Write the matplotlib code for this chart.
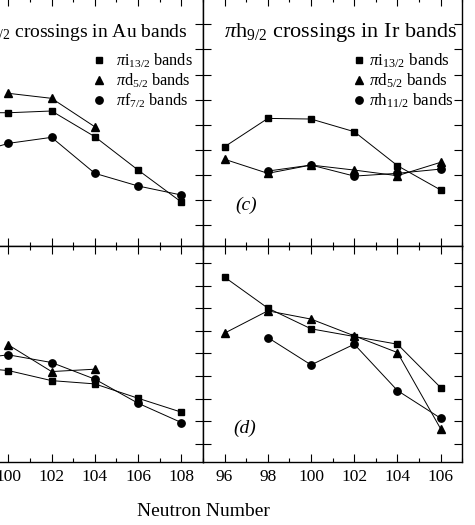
import matplotlib
matplotlib.use('Agg')
import matplotlib.pyplot as plt
from matplotlib.lines import Line2D
import numpy as np

plt.rcParams['font.family'] = ['Liberation Serif', 'DejaVu Serif']
plt.rcParams['mathtext.fontset'] = 'custom'
plt.rcParams['mathtext.rm'] = 'Liberation Serif'
plt.rcParams['mathtext.it'] = 'Liberation Serif:italic'

# ---------------- data (crossing frequencies) ----------------
# Upper-left: pi h9/2 crossings in Au bands
au_up_i13_N = [98, 100, 102, 104, 106, 108]
au_up_i13 = [0.2897, 0.2895, 0.2909, 0.2704, 0.2438, 0.2183]
au_up_d52_N = [100, 102, 104]
au_up_d52 = [0.3050, 0.3010, 0.2783]
au_up_f72_N = [98, 100, 102, 104, 106, 108]
au_up_f72 = [0.2550, 0.2651, 0.2699, 0.2412, 0.2311, 0.2239]

# Upper-right (c): pi h9/2 crossings in Ir bands
ir_up_i13_N = [96, 98, 100, 102, 104, 106]
ir_up_i13 = [0.2624, 0.2850, 0.2845, 0.2744, 0.2473, 0.2279]
ir_up_d52_N = [96, 98, 100, 102, 104, 106]
ir_up_d52 = [0.2524, 0.2412, 0.2478, 0.2438, 0.2393, 0.2500]
ir_up_h112_N = [98, 100, 102, 104, 106]
ir_up_h112 = [0.2430, 0.2478, 0.2390, 0.2412, 0.2446]

# Lower-left: Au bands
au_lo_i13_N = [98, 100, 102, 104, 106, 108]
au_lo_i13 = [0.2681, 0.2649, 0.2560, 0.2531, 0.2404, 0.2281]
au_lo_d52_N = [100, 102, 104]
au_lo_d52 = [0.2876, 0.2640, 0.2661]
au_lo_f72_N = [98, 100, 102, 104, 106, 108]
au_lo_f72 = [0.2743, 0.2788, 0.2720, 0.2573, 0.2360, 0.2189]

# Lower-right (d): Ir bands
ir_lo_i13_N = [96, 98, 100, 102, 104, 106]
ir_lo_i13 = [0.3475, 0.3201, 0.3018, 0.2950, 0.2882, 0.2498]
ir_lo_d52_N = [96, 98, 100, 102, 104, 106]
ir_lo_d52 = [0.2980, 0.3177, 0.3104, 0.2956, 0.2808, 0.2133]
ir_lo_h112_N = [98, 100, 102, 104, 106]
ir_lo_h112 = [0.2941, 0.2699, 0.2882, 0.2472, 0.2227]

au_title = r"$\pi$h$_{9/2}$ crossings in Au bands"
ir_title = r"$\pi$h$_{9/2}$ crossings in Ir bands"
au_labels = [r"$\pi$i$_{13/2}$ bands", r"$\pi$d$_{5/2}$ bands", r"$\pi$f$_{7/2}$ bands"]
ir_labels = [r"$\pi$i$_{13/2}$ bands", r"$\pi$d$_{5/2}$ bands", r"$\pi$h$_{11/2}$ bands"]
xlabel = "Neutron Number"

# ---------------- layout ----------------
W, H = 475, 525
fig = plt.figure(figsize=(W / 100, H / 100), dpi=100)


def px_axes(x0, y0, x1, y1):
    return fig.add_axes([x0 / W, 1 - y1 / H, (x1 - x0) / W, (y1 - y0) / H])


XL = (-13.3, 203.0)
XR = (203.0, 462.3)
YT = (-2.0, 245.7)
YB = (245.7, 461.7)

ax_ul = px_axes(XL[0], YT[0], XL[1], YT[1])
ax_ur = px_axes(XR[0], YT[0], XR[1], YT[1])
ax_ll = px_axes(XL[0], YB[0], XL[1], YB[1])
ax_lr = px_axes(XR[0], YB[0], XR[1], YB[1])

lw = 0.7
styles = [dict(marker='s', ms=4.6), dict(marker='^', ms=5.6), dict(marker='o', ms=5.3)]


def draw(ax, series):
    for (n, v), st in zip(series, styles):
        ax.plot(n, v, '-', color='k', lw=lw, mec='k', mfc='k', **st)


draw(ax_ul, [(au_up_i13_N, au_up_i13), (au_up_d52_N, au_up_d52), (au_up_f72_N, au_up_f72)])
draw(ax_ur, [(ir_up_i13_N, ir_up_i13), (ir_up_d52_N, ir_up_d52), (ir_up_h112_N, ir_up_h112)])
draw(ax_ll, [(au_lo_i13_N, au_lo_i13), (au_lo_d52_N, au_lo_d52), (au_lo_f72_N, au_lo_f72)])
draw(ax_lr, [(ir_lo_i13_N, ir_lo_i13), (ir_lo_d52_N, ir_lo_d52), (ir_lo_h112_N, ir_lo_h112)])

yticks = np.arange(0.20, 0.3601, 0.02)
for ax, bottom in [(ax_ul, False), (ax_ur, False), (ax_ll, True), (ax_lr, True)]:
    if ax in (ax_ul, ax_ll):
        ax.set_xlim(99, 109)
        ax.set_xticks(np.arange(100, 109, 2))
        ax.set_xticks(np.arange(99, 110, 2), minor=True)
    else:
        ax.set_xlim(95, 107)
        ax.set_xticks(np.arange(96, 107, 2))
        ax.set_xticks(np.arange(95, 108, 2), minor=True)
    if ax in (ax_ul, ax_ur):
        ax.set_ylim(0.1835, 0.381)
    else:
        ax.set_ylim(0.1843, 0.3753)
    ax.set_yticks(yticks)
    ax.tick_params(which='both', direction='in', top=True, right=True,
                   labelleft=False, labelbottom=bottom, labelsize=12.5, pad=5)
    ax.tick_params(which='major', length=6, width=0.8)
    ax.tick_params(which='minor', length=3, width=0.8)
    for s in ax.spines.values():
        s.set_linewidth(1.0)

# titles
ax_ul.text((188 - XL[0]) / (XL[1] - XL[0]), (YT[1] - 37) / (YT[1] - YT[0]), au_title,
           transform=ax_ul.transAxes, ha='right', va='baseline', fontsize=14)
ax_ur.text((457 - XR[0]) / (XR[1] - XR[0]), (YT[1] - 37) / (YT[1] - YT[0]), ir_title,
           transform=ax_ur.transAxes, ha='right', va='baseline', fontsize=16)


def legend(ax, labels, x_left_px, x0, fs, tp):
    handles = [Line2D([], [], ls='none', color='k', **st) for st in styles]
    ax.legend(handles, labels, loc='upper left', frameon=False, fontsize=fs,
              handlelength=0.6, handletextpad=tp, labelspacing=0.1, borderpad=0,
              borderaxespad=0,
              bbox_to_anchor=((x_left_px - x0[0]) / (x0[1] - x0[0]),
                              (YT[1] - 51.5) / (YT[1] - YT[0])))


legend(ax_ul, au_labels, 94, XL, 11.7, 0.75)
legend(ax_ur, ir_labels, 354, XR, 12.3, 0.25)

# panel labels
ax_ur.text((235 - XR[0]) / (XR[1] - XR[0]), (YT[1] - 210) / (YT[1] - YT[0]), "(c)",
           transform=ax_ur.transAxes, ha='left', va='baseline', fontsize=14, style='italic')
ax_lr.text((233 - XR[0]) / (XR[1] - XR[0]), (YB[1] - 433) / (YB[1] - YB[0]), "(d)",
           transform=ax_lr.transAxes, ha='left', va='baseline', fontsize=14, style='italic')

fig.text(203.5 / W, 1 - 512 / H, xlabel, ha='center', va='center', fontsize=14)

fig.savefig('out.png', dpi=100)
